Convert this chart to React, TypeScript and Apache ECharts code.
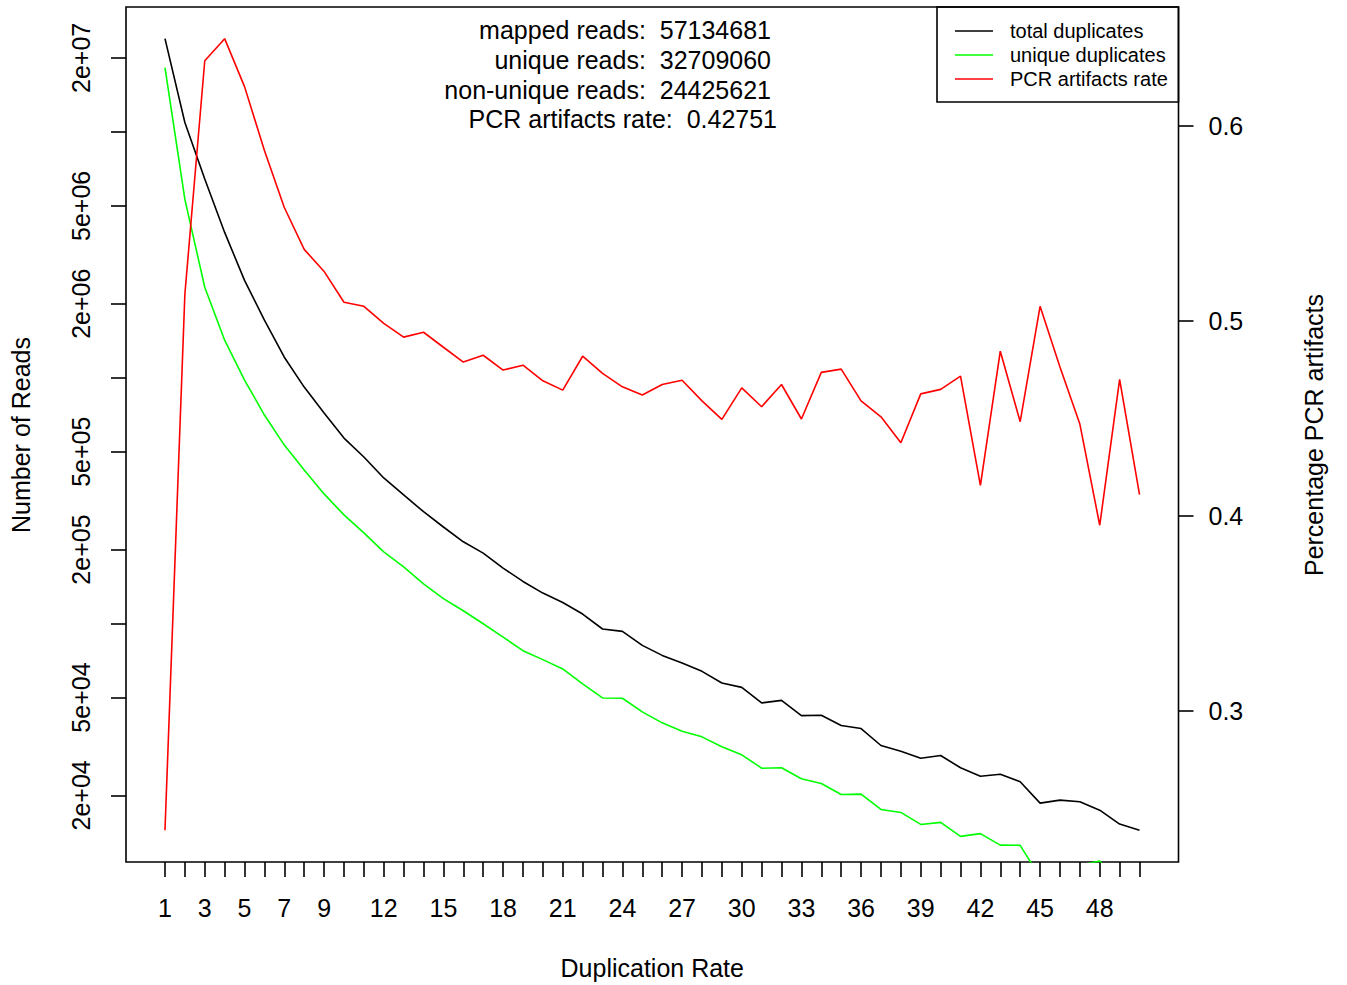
import React, { useEffect, useRef } from "react";
import * as echarts from "echarts";

const dupRate = [
  1, 2, 3, 4, 5, 6, 7, 8, 9, 10, 11, 12, 13, 14, 15, 16, 17, 18, 19, 20, 21, 22, 23, 24, 25,
  26, 27, 28, 29, 30, 31, 32, 33, 34, 35, 36, 37, 38, 39, 40, 41, 42, 43, 44, 45, 46, 47, 48, 49, 50,
];

const totalDuplicates = [
  23950000, 10920000, 6430000, 3900000, 2490000, 1714000, 1212000, 916000, 718000, 568000,
  476000, 391000, 334000, 285000, 247000, 215000, 193400, 168100, 148300, 133000,
  121800, 109300, 95000, 92900, 81500, 74200, 69100, 63900, 57300, 55000,
  47550, 48700, 42200, 42350, 38450, 37400, 31900, 30240, 28330, 29060,
  25890, 23930, 24380, 22710, 18590, 19120, 18840, 17410, 15280, 14410,
];

const uniqueDuplicates = [
  18260000, 5316000, 2333000, 1421000, 978000, 705000, 532000, 421500, 336800, 276600,
  233700, 195700, 170100, 145100, 126200, 112700, 99800, 88100, 77550, 71300,
  65350, 56800, 49800, 49650, 43700, 39440, 36460, 34590, 31510, 29240,
  25790, 25890, 23360, 22360, 20170, 20230, 17520, 17040, 15230, 15520,
  13620, 13970, 12550, 12520, 9280, 8690, 10400, 10800, 8800, 7920,
];

const pcrRate = [
  0.2387, 0.5137, 0.6335, 0.6448, 0.6202, 0.5874, 0.5582, 0.5367, 0.5254, 0.5096,
  0.5075, 0.4988, 0.4917, 0.4942, 0.4865, 0.4789, 0.4824, 0.4748, 0.4773, 0.4693,
  0.4645, 0.4819, 0.4731, 0.4662, 0.462, 0.4674, 0.4696, 0.459, 0.4495, 0.4657,
  0.456, 0.4674, 0.4497, 0.4736, 0.4753, 0.459, 0.4508, 0.4375, 0.4626, 0.4649,
  0.4717, 0.4157, 0.4845, 0.4483, 0.5075, 0.4764, 0.4471, 0.3952, 0.47, 0.4109,
];

const xTickLabels = [1, 3, 5, 7, 9, 12, 15, 18, 21, 24, 27, 30, 33, 36, 39, 42, 45, 48];
const leftTickValues = [2e4, 5e4, 1e5, 2e5, 5e5, 1e6, 2e6, 5e6, 1e7, 2e7];
const leftLabelValues = [2e4, 5e4, 2e5, 5e5, 2e6, 5e6, 2e7];
const leftLabelTexts = ["2e+04", "5e+04", "2e+05", "5e+05", "2e+06", "5e+06", "2e+07"];
const rightTickValues = [0.3, 0.4, 0.5, 0.6];

const seriesNames = ["total duplicates", "unique duplicates", "PCR artifacts rate"];
const seriesColors = ["#000000", "#00ff00", "#ff0000"];

const statLabels = ["mapped reads:", "unique reads:", "non-unique reads:", "PCR artifacts rate:"];
const statValues = ["57134681", "32709060", "24425621", "0.42751"];

const FONT = '"Liberation Sans", Arial, Helvetica, sans-serif';
const LW = 1.6;

function extend(lo: number, hi: number): [number, number] {
  const d = (hi - lo) * 0.04;
  return [lo - d, hi + d];
}

export default function App() {
  const ref = useRef<HTMLDivElement>(null);

  useEffect(() => {
    if (!ref.current) return;
    const chart = echarts.init(ref.current, undefined, { renderer: "svg" });

    const [xMin, xMax] = extend(Math.min(...dupRate), Math.max(...dupRate));
    const logTotal = totalDuplicates.map((v) => Math.log10(v));
    const [yMin, yMax] = extend(Math.min(...logTotal), Math.max(...logTotal));
    const [rMin, rMax] = extend(Math.min(...pcrRate), Math.max(...pcrRate));

    const plotLeft = 126;
    const plotTop = 7;
    const plotRight = 1178.5;
    const plotBottom = 862;

    const tickStyle = { color: "#000", width: LW };
    const labelBase = { color: "#000", fontSize: 25, fontFamily: FONT };
    const noLine = { show: false, onZero: false };

    const leftFormatter = (v: number) => {
      let best = 0;
      let bd = Infinity;
      leftLabelValues.forEach((lv, i) => {
        const d = Math.abs(Math.log10(lv) - v);
        if (d < bd) {
          bd = d;
          best = i;
        }
      });
      return leftLabelTexts[best];
    };

    const lineSeries = [
      { data: totalDuplicates, axis: 0, log: true },
      { data: uniqueDuplicates, axis: 0, log: true },
      { data: pcrRate, axis: 1, log: false },
    ].map((s, i) => ({
      type: "line",
      name: seriesNames[i],
      yAxisIndex: s.axis,
      data: dupRate.map((x, j) => [x, s.log ? Math.log10(s.data[j]) : s.data[j]]),
      symbol: "none",
      showSymbol: false,
      clip: true,
      lineStyle: { color: seriesColors[i], width: LW },
      itemStyle: { color: seriesColors[i] },
      emphasis: { disabled: true },
      z: 2 + i,
    }));

    const legendX = 937;
    const legendY = plotTop;
    const legendW = plotRight - legendX;
    const legendH = 95;
    const legendRows = [31, 55, 79];

    const graphic: any[] = [
      {
        type: "text",
        x: (plotLeft + plotRight) / 2,
        y: 968,
        style: { text: "Duplication Rate", font: `25px ${FONT}`, fill: "#000", align: "center", verticalAlign: "middle" },
      },
      {
        type: "text",
        x: 21,
        y: 435,
        rotation: Math.PI / 2,
        style: { text: "Number of Reads", font: `25px ${FONT}`, fill: "#000", align: "center", verticalAlign: "middle" },
      },
      {
        type: "text",
        x: 1314,
        y: 435,
        rotation: Math.PI / 2,
        style: { text: "Percentage PCR artifacts", font: `25px ${FONT}`, fill: "#000", align: "center", verticalAlign: "middle" },
      },
      {
        type: "rect",
        shape: { x: legendX, y: legendY, width: legendW, height: legendH },
        style: { fill: "none", stroke: "#000", lineWidth: LW },
      },
    ];

    const statRight = [771, 771, 771, 777];
    const statY = [30, 60, 90, 119];
    statLabels.forEach((lab, i) => {
      graphic.push({
        type: "text",
        x: statRight[i],
        y: statY[i],
        style: {
          text: `${lab}\u00a0\u00a0${statValues[i]}`,
          font: `25px ${FONT}`,
          fill: "#000",
          align: "right",
          verticalAlign: "middle",
        },
      });
    });

    seriesNames.forEach((name, i) => {
      graphic.push({
        type: "line",
        shape: { x1: 955, y1: legendRows[i], x2: 993, y2: legendRows[i] },
        style: { stroke: seriesColors[i], lineWidth: LW },
      });
      graphic.push({
        type: "text",
        x: 1010,
        y: legendRows[i],
        style: { text: name, font: `20px ${FONT}`, fill: "#000", align: "left", verticalAlign: "middle" },
      });
    });

    const option: any = {
      animation: false,
      backgroundColor: "#ffffff",
      grid: {
        left: plotLeft,
        top: plotTop,
        right: 1347 - plotRight,
        bottom: 985 - plotBottom,
        show: true,
        borderColor: "#000",
        borderWidth: LW,
        backgroundColor: "transparent",
        containLabel: false,
        outerBoundsMode: "none",
      },
      xAxis: {
        type: "value",
        min: xMin,
        max: xMax,
        axisLine: noLine,
        splitLine: { show: false },
        axisTick: { show: true, length: 15, lineStyle: tickStyle, customValues: dupRate },
        axisLabel: {
          ...labelBase,
          margin: 33,
          customValues: xTickLabels,
          formatter: (v: number) => String(Math.round(v)),
        },
      },
      yAxis: [
        {
          type: "value",
          position: "left",
          min: yMin,
          max: yMax,
          axisLine: noLine,
          splitLine: { show: false },
          axisTick: { show: true, length: 15, lineStyle: tickStyle, customValues: leftTickValues.map((v) => Math.log10(v)) },
          axisLabel: {
            ...labelBase,
            rotate: 90,
            margin: 33,
            customValues: leftLabelValues.map((v) => Math.log10(v)),
            formatter: leftFormatter,
          },
        },
        {
          type: "value",
          position: "right",
          min: rMin,
          max: rMax,
          axisLine: noLine,
          splitLine: { show: false },
          axisTick: { show: true, length: 15, lineStyle: tickStyle, customValues: rightTickValues },
          axisLabel: {
            ...labelBase,
            margin: 30,
            customValues: rightTickValues,
            formatter: (v: number) => v.toFixed(1),
          },
        },
      ],
      series: lineSeries,
      graphic,
    };

    chart.setOption(option);
    return () => {
      chart.dispose();
    };
  }, []);

  return (
    <div
      ref={ref}
      style={{ position: "fixed", left: 0, top: 0, width: 1347, height: 985, background: "#fff" }}
    />
  );
}
